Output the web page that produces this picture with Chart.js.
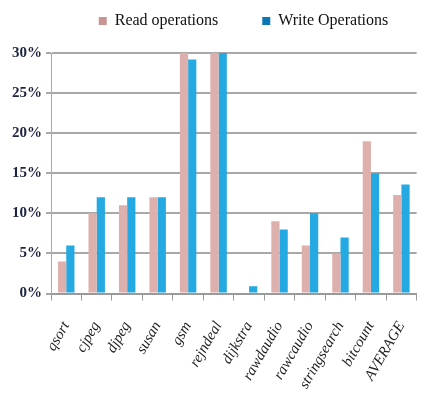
<!DOCTYPE html>
<html><head><meta charset="utf-8">
<script src="https://cdn.jsdelivr.net/npm/chart.js@4/dist/chart.umd.min.js"></script>
<style>html,body{margin:0;padding:0;background:#fff}#w{width:435px;height:410px}</style>
</head><body><div id="w"><canvas id="c"></canvas></div>
<script>
const categories = ["qsort","cjpeg","djpeg","susan","gsm","rejndeal","dijkstra","rawdaudio","rawcaudio","stringsearch","bitcount","AVERAGE"];
const readOps = [4, 10, 11, 12, 30, 30, 0, 9, 6, 5, 19, 12.3];
const writeOps = [6, 12, 12, 12, 29.2, 30, 0.9, 8, 10, 7, 15, 13.6];
const seriesNames = ["Read operations", "Write Operations"];
const yTicks = [0, 5, 10, 15, 20, 25, 30];

function grad(ctx, c1, c2, c3) {
  const el = ctx.element;
  const chart = ctx.chart;
  if (!el || !chart.chartArea || el.x === undefined) return c2;
  const w = el.width || 10;
  const g = chart.ctx.createLinearGradient(el.x - w / 2, 0, el.x + w / 2, 0);
  g.addColorStop(0, c1); g.addColorStop(0.45, c2); g.addColorStop(1, c3);
  return g;
}

const shiftLegend = {
  id: 'shiftLegend',
  beforeLayout(chart) {
    const lg = chart.legend;
    if (lg && !lg._patched) {
      const f = lg.fit.bind(lg);
      lg.fit = function () { f(); this.height -= 21; };
      lg._patched = true;
    }
  },
  afterLayout(chart) {
    const lg = chart.legend;
    if (lg) {
      lg.left += 22; lg.right += 22;
      lg.top -= 35;
      lg.bottom += 10;
    }
  }
};

new Chart(document.getElementById('c'), {
  type: 'bar',
  data: {
    labels: categories,
    datasets: [
      { label: seriesNames[0], data: readOps,
        backgroundColor: (ctx) => grad(ctx, '#e9c4c2', '#ddb0ad', '#c99592'),
        borderWidth: 0 },
      { label: seriesNames[1], data: writeOps,
        backgroundColor: (ctx) => grad(ctx, '#0f86c4', '#25a9e2', '#0b78b5'),
        borderWidth: 0 }
    ]
  },
  plugins: [shiftLegend],
  options: {
    responsive: true, maintainAspectRatio: false, animation: false,
    layout: { padding: { left: 8, right: 0, top: 4, bottom: 0 } },
    datasets: { bar: { categoryPercentage: 0.54, barPercentage: 1.0 } },
    plugins: {
      tooltip: { enabled: false },
      legend: {
        position: 'top',
        labels: {
          boxWidth: 8, boxHeight: 8, padding: 44,
          color: '#111',
          font: { family: 'Liberation Serif', size: 16 }
        }
      }
    },
    scales: {
      x: {
        grid: { display: true, drawOnChartArea: false, offset: true, tickLength: 7, color: '#9a9a9a', lineWidth: 1 },
        border: { color: '#9a9a9a', width: 2 },
        ticks: {
          maxRotation: 60, minRotation: 60, padding: 18, autoSkip: false,
          color: '#222', font: { family: 'Liberation Serif', size: 15, style: 'italic' }
        }
      },
      y: {
        min: 0, max: 30,
        afterBuildTicks: (axis) => { axis.ticks = yTicks.map(v => ({ value: v })); },
        grid: { color: '#a8a8a8', lineWidth: 2, tickLength: 5 },
        border: { color: '#a8a8a8', width: 1 },
        ticks: {
          callback: (v) => v + '%', padding: 4,
          color: '#1d2540', font: { family: 'Liberation Serif', size: 15, weight: 'bold' }
        }
      }
    }
  }
});
</script></body></html>
